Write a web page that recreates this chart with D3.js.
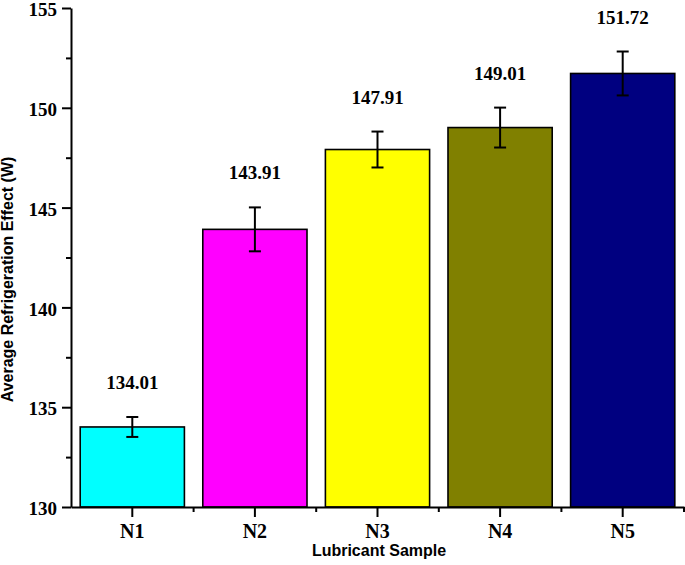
<!DOCTYPE html>
<html>
<head>
  <meta charset="utf-8" />
  <title>Average Refrigeration Effect</title>
  <script src="https://d3js.org/d3.v7.min.js"></script>
  <style>
    body { margin: 0; background: #fff; }
    svg { display: block; }
    .tick text { font-family: "Liberation Serif", "Times New Roman", serif; font-weight: bold; fill: #000; }
    .domain, .tick line { stroke: #000; stroke-width: 2; }
  </style>
</head>
<body>
  <svg id="chart"></svg>
  <script>
    // data
    var samples = ["N1", "N2", "N3", "N4", "N5"];
    var values = [134.01, 143.91, 147.91, 149.01, 151.72];
    var errors = [0.5, 1.1, 0.9, 1.0, 1.1];
    var colors = ["#00ffff", "#ff00ff", "#ffff00", "#808000", "#000080"];
    var yTicks = [130, 135, 140, 145, 150, 155];
    var yMinorTicks = [132.5, 137.5, 142.5, 147.5, 152.5];

    var width = 685, height = 565;
    var margin = { top: 8, right: 1, bottom: 58, left: 71 };

    var svg = d3.select("#chart").attr("width", width).attr("height", height);

    var x = d3.scaleBand()
      .domain(samples)
      .range([margin.left, width - margin.right])
      .paddingInner(0.15)
      .paddingOuter(0.075);

    var y = d3.scaleLinear()
      .domain([130, 155])
      .range([height - margin.bottom, margin.top]);

    var rows = samples.map(function (s, i) {
      return { name: s, value: values[i], err: errors[i], color: colors[i] };
    });

    // bars
    svg.selectAll("rect.bar")
      .data(rows)
      .enter()
      .append("rect")
      .attr("class", "bar")
      .attr("x", function (d) { return x(d.name); })
      .attr("y", function (d) { return y(d.value); })
      .attr("width", x.bandwidth())
      .attr("height", function (d) { return y(130) - y(d.value); })
      .attr("fill", function (d) { return d.color; })
      .attr("stroke", "#000")
      .attr("stroke-width", 1.6);

    // error bars
    var eb = svg.selectAll("g.err")
      .data(rows)
      .enter()
      .append("g")
      .attr("class", "err")
      .attr("stroke", "#000")
      .attr("stroke-width", 2);
    eb.append("line")
      .attr("x1", function (d) { return x(d.name) + x.bandwidth() / 2; })
      .attr("x2", function (d) { return x(d.name) + x.bandwidth() / 2; })
      .attr("y1", function (d) { return y(d.value + d.err); })
      .attr("y2", function (d) { return y(d.value - d.err); });
    eb.selectAll("line.cap")
      .data(function (d) { return [d.value + d.err, d.value - d.err].map(function (v) { return { name: d.name, v: v }; }); })
      .enter()
      .append("line")
      .attr("class", "cap")
      .attr("x1", function (d) { return x(d.name) + x.bandwidth() / 2 - 6; })
      .attr("x2", function (d) { return x(d.name) + x.bandwidth() / 2 + 6; })
      .attr("y1", function (d) { return y(d.v); })
      .attr("y2", function (d) { return y(d.v); });

    // value labels
    svg.selectAll("text.val")
      .data(rows)
      .enter()
      .append("text")
      .attr("class", "val")
      .attr("x", function (d) { return x(d.name) + x.bandwidth() / 2; })
      .attr("y", function (d) { return y(d.value + d.err) - 28; })
      .attr("text-anchor", "middle")
      .style("font-family", "'Liberation Serif', 'Times New Roman', serif")
      .style("font-weight", "bold")
      .style("font-size", "19px")
      .text(function (d) { return d.value.toFixed(2); });

    // y axis
    svg.append("g")
      .attr("transform", "translate(" + margin.left + ",0)")
      .call(d3.axisLeft(y).tickValues(yMinorTicks).tickSize(5).tickFormat(""))
      .select(".domain").remove();
    svg.append("g")
      .attr("transform", "translate(" + margin.left + ",0)")
      .call(d3.axisLeft(y).tickValues(yTicks).tickSize(9).tickSizeOuter(0).tickPadding(5))
      .selectAll("text")
      .attr("dy", "0.4em")
      .style("font-size", "19px");

    // x axis
    var xMinor = samples.slice(1).map(function (s) { return x(s) - x.step() * x.paddingInner() / 2; });
    xMinor.push(width - margin.right);
    svg.append("g")
      .selectAll("line")
      .data(xMinor)
      .enter()
      .append("line")
      .attr("x1", function (d) { return d; })
      .attr("x2", function (d) { return d; })
      .attr("y1", y(130))
      .attr("y2", y(130) + 5)
      .attr("stroke", "#000")
      .attr("stroke-width", 2);
    var xg = svg.append("g")
      .attr("transform", "translate(0," + y(130) + ")")
      .call(d3.axisBottom(x).tickSize(10).tickSizeOuter(0).tickPadding(7));
    xg.selectAll("text").style("font-size", "20px");

    // axis titles
    svg.append("text")
      .attr("transform", "translate(13," + (margin.top + (height - margin.bottom - margin.top) / 2 + 22) + ") rotate(-90)")
      .attr("text-anchor", "middle")
      .style("font-family", "'Liberation Sans', Arial, sans-serif")
      .style("font-weight", "bold")
      .style("font-size", "16px")
      .text("Average Refrigeration Effect (W)");
    svg.append("text")
      .attr("x", 379)
      .attr("y", 556)
      .attr("text-anchor", "middle")
      .style("font-family", "'Liberation Sans', Arial, sans-serif")
      .style("font-weight", "bold")
      .style("font-size", "16px")
      .text("Lubricant Sample");
  </script>
</body>
</html>
